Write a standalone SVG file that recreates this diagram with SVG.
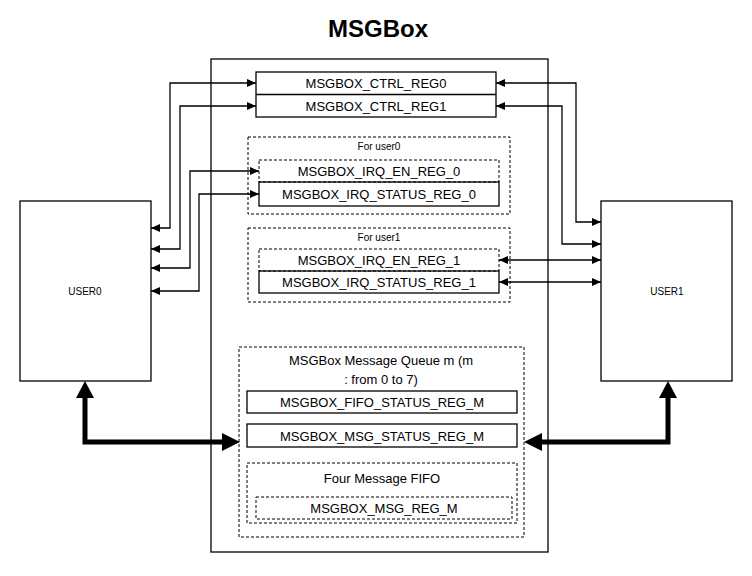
<svg xmlns="http://www.w3.org/2000/svg" width="752" height="576" viewBox="0 0 752 576">
<style>
.box{fill:none;stroke:#000;stroke-width:1.3}
.dash{fill:none;stroke:#000;stroke-width:1;stroke-dasharray:3,2}
.t{font-family:"Liberation Sans",Arial,sans-serif;font-size:13px;text-anchor:middle;dominant-baseline:central;fill:#000}
.s{font-size:10px}
.w{fill:none;stroke:#000;stroke-width:1.3}
.thick{fill:none;stroke:#000;stroke-width:5;stroke-linejoin:miter}
.head{fill:#000}
</style>
<defs>
<marker id="arr" markerUnits="userSpaceOnUse" markerWidth="9" markerHeight="8" refX="9" refY="4" orient="auto-start-reverse">
<path d="M0,0 L9,4 L0,8 z" fill="#000"/>
</marker>
</defs>
<rect width="752" height="576" fill="#fff"/>
<text class="t" x="378" y="28" style="font-size:24px;font-weight:bold">MSGBox</text>

<g id="main">
<rect class="box" x="211" y="59" width="337" height="493"/>
</g>

<g id="user0">
<rect class="box" x="20" y="201" width="131" height="180"/>
<text class="t s" x="85" y="291">USER0</text>
</g>

<g id="user1">
<rect class="box" x="601" y="201" width="131" height="180"/>
<text class="t s" x="667" y="291">USER1</text>
</g>

<g id="ctrl">
<rect class="box" x="256" y="72" width="240" height="45"/>
<line class="box" x1="256" y1="94.5" x2="496" y2="94.5"/>
<text class="t" x="376" y="83">MSGBOX_CTRL_REG0</text>
<text class="t" x="376" y="106">MSGBOX_CTRL_REG1</text>
</g>

<g id="user0regs">
<rect class="dash" x="248" y="137" width="262" height="77"/>
<text class="t s" x="379" y="146">For user0</text>
<rect class="dash" x="259" y="160" width="240" height="22"/>
<rect class="box" x="259" y="182" width="240" height="24"/>
<text class="t" x="379" y="171">MSGBOX_IRQ_EN_REG_0</text>
<text class="t" x="379" y="194">MSGBOX_IRQ_STATUS_REG_0</text>
</g>

<g id="user1regs">
<rect class="dash" x="248" y="228" width="262" height="74"/>
<text class="t s" x="379" y="237">For user1</text>
<rect class="dash" x="259" y="249" width="240" height="22"/>
<rect class="box" x="259" y="271" width="240" height="22"/>
<text class="t" x="379" y="260">MSGBOX_IRQ_EN_REG_1</text>
<text class="t" x="379" y="282">MSGBOX_IRQ_STATUS_REG_1</text>
</g>

<g id="queue">
<rect class="dash" x="239" y="347" width="285" height="190"/>
<text class="t" x="381" y="360">MSGBox Message Queue m (m</text>
<text class="t" x="381" y="379">: from 0 to 7)</text>
<rect class="box" x="247" y="391" width="270" height="22"/>
<text class="t" x="382" y="402">MSGBOX_FIFO_STATUS_REG_M</text>
<rect class="box" x="247" y="424" width="270" height="23"/>
<text class="t" x="382" y="436">MSGBOX_MSG_STATUS_REG_M</text>
<rect class="dash" x="247" y="463" width="270" height="60"/>
<text class="t" x="382" y="478">Four Message FIFO</text>
<rect class="dash" x="256" y="497" width="256" height="22"/>
<text class="t" x="384" y="508">MSGBOX_MSG_REG_M</text>
</g>

<g id="connectors">
<path class="w" d="M151,228 H170 V83 H256" marker-start="url(#arr)" marker-end="url(#arr)"/>
<path class="w" d="M151,249 H180 V106 H256" marker-start="url(#arr)" marker-end="url(#arr)"/>
<path class="w" d="M151,268 H190 V171 H259" marker-start="url(#arr)" marker-end="url(#arr)"/>
<path class="w" d="M151,291 H199 V194 H259" marker-start="url(#arr)" marker-end="url(#arr)"/>
<path class="w" d="M496,83 H576 V222 H601" marker-start="url(#arr)" marker-end="url(#arr)"/>
<path class="w" d="M496,106 H562 V244 H601" marker-start="url(#arr)" marker-end="url(#arr)"/>
<path class="w" d="M499,260 H601" marker-start="url(#arr)" marker-end="url(#arr)"/>
<path class="w" d="M499,282 H601" marker-start="url(#arr)" marker-end="url(#arr)"/>
<path class="thick" d="M223,442 H85 V397"/>
<polygon class="head" points="76,398 85,381 94,398"/>
<polygon class="head" points="222,433 240,442 222,451"/>
<path class="thick" d="M541,442 H668 V397"/>
<polygon class="head" points="542,433 524,442 542,451"/>
<polygon class="head" points="659,398 668,381 677,398"/>
</g>
</svg>
